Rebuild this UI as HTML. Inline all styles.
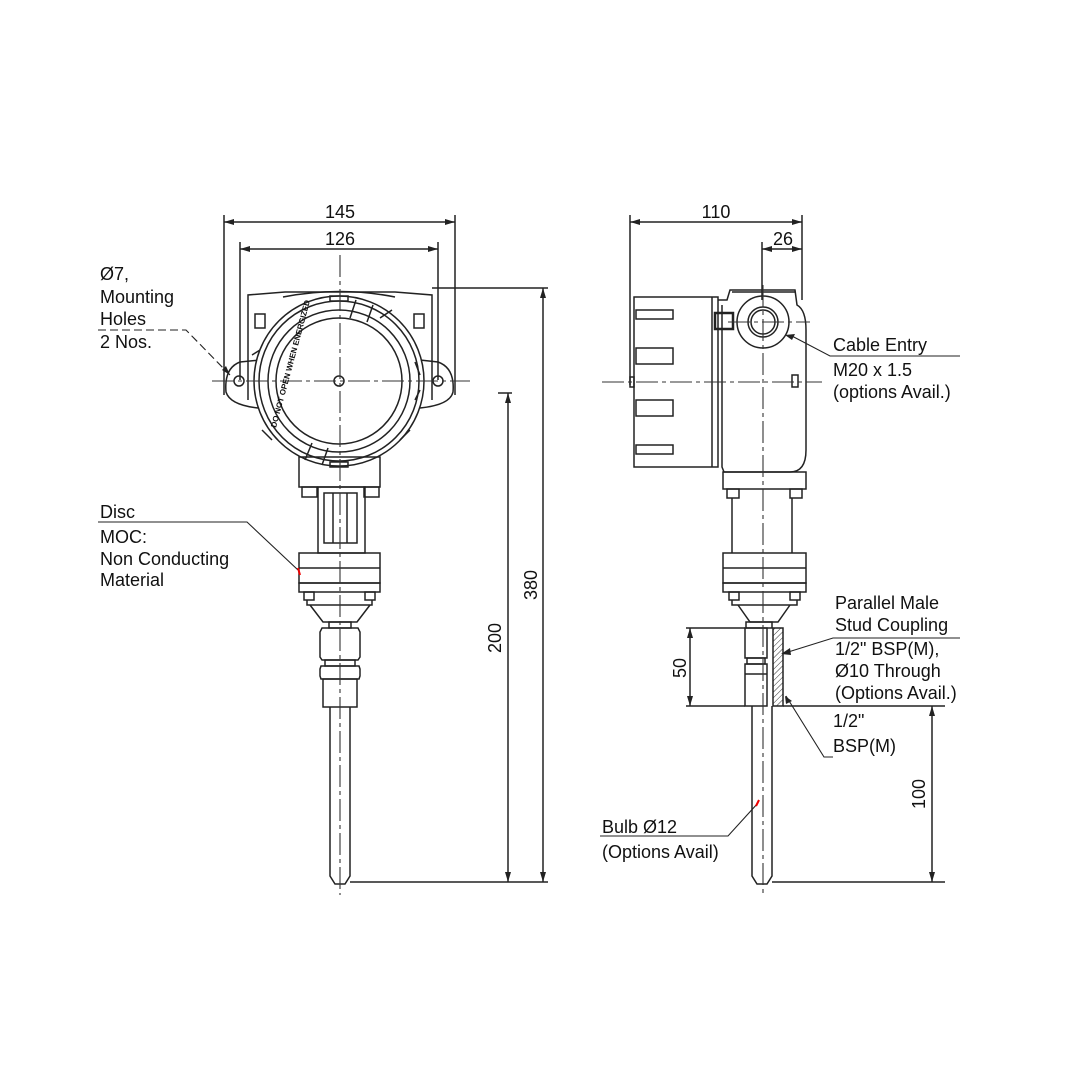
<!DOCTYPE html>
<html><head><style>
html,body{margin:0;padding:0;background:#fff;}
svg{display:block;}
text{font-family:"Liberation Sans",Arial,sans-serif;font-size:18px;fill:#111;}
</style></head><body>
<svg width="1080" height="1080" viewBox="0 0 1080 1080" xmlns="http://www.w3.org/2000/svg">
<defs>
<marker id="a" viewBox="0 0 10 10" refX="10" refY="5" markerWidth="10" markerHeight="10" orient="auto-start-reverse" markerUnits="userSpaceOnUse"><path d="M0,2 L10,5 L0,8 z" fill="#222"/></marker>
<pattern id="h" width="4" height="4" patternUnits="userSpaceOnUse" patternTransform="rotate(45)"><line x1="0" y1="0" x2="0" y2="4" stroke="#333" stroke-width="1"/></pattern>
</defs>
<g fill="none" stroke="#222" stroke-width="1.5">
<line x1="224" y1="215" x2="224" y2="395"/><line x1="455" y1="215" x2="455" y2="395"/>
<line x1="240" y1="242" x2="240" y2="380"/><line x1="438" y1="242" x2="438" y2="380"/>
<line x1="224" y1="222" x2="455" y2="222" marker-start="url(#a)" marker-end="url(#a)"/>
<line x1="240" y1="249" x2="438" y2="249" marker-start="url(#a)" marker-end="url(#a)"/>
<line x1="432" y1="288" x2="548" y2="288"/>
<line x1="498" y1="393" x2="512" y2="393"/>
<line x1="350" y1="882" x2="548" y2="882"/>
<line x1="508" y1="393" x2="508" y2="882" marker-start="url(#a)" marker-end="url(#a)"/>
<line x1="543" y1="288" x2="543" y2="882" marker-start="url(#a)" marker-end="url(#a)"/>
<path d="M248,400 L248,295 L285,292 L395,292 L432,295 L432,400"/>
<path d="M283,297 Q340,286 395,297"/>
<path d="M260,360 L240,362 Q224,368 226,392 Q230,405 258,408"/>
<path d="M420,360 L438,362 Q455,368 453,392 Q450,405 420,408"/>
<circle cx="239" cy="381" r="5"/><circle cx="438" cy="381" r="5"/>
<rect x="255" y="314" width="10" height="14"/><rect x="414" y="314" width="10" height="14"/>
<circle cx="339" cy="381" r="85" fill="#fff"/>
<circle cx="339" cy="381" r="80"/>
<circle cx="339" cy="381" r="71"/>
<circle cx="339" cy="381" r="63"/>
<circle cx="339" cy="381" r="5"/>
<rect x="330" y="296" width="18" height="5"/><rect x="330" y="462" width="18" height="5"/>
<path d="M356,300 L350,318 M373,305 L367,322"/>
<path d="M312,443 L305,460 M328,448 L322,465"/>
<path d="M252,355 L260,350 M415,362 L420,375 M415,400 L420,390 M262,430 L272,440 M400,440 L410,430 M380,318 L392,310"/>
<rect x="299" y="457" width="81" height="30"/>
<rect x="302" y="487" width="15" height="10"/><rect x="364" y="487" width="15" height="10"/>
<rect x="318" y="487" width="47" height="66"/>
<rect x="324" y="493" width="33" height="50"/>
<line x1="333" y1="493" x2="333" y2="543"/><line x1="347" y1="493" x2="347" y2="543"/>
<rect x="299" y="553" width="81" height="30"/><line x1="299" y1="568" x2="380" y2="568"/>
<rect x="299" y="583" width="81" height="9"/>
<rect x="304" y="592" width="10" height="8"/><rect x="365" y="592" width="10" height="8"/>
<path d="M307,600 L307,605 L372,605 L372,600"/>
<path d="M310,605 L323,622 L357,622 L370,605"/>
<rect x="329" y="622" width="22" height="6"/>
<path d="M322,628 L358,628 L360,632 L360,657 L358,660 L322,660 L320,657 L320,632 Z"/>
<rect x="325" y="660" width="30" height="6"/>
<path d="M321,666 L359,666 L360,669 L360,676 L359,679 L321,679 L320,676 L320,669 Z"/>
<rect x="323" y="679" width="34" height="28"/>
<path d="M330,707 L330,876 L335,884 L345,884 L350,876 L350,707"/>
<line x1="630" y1="215" x2="630" y2="385"/><line x1="802" y1="215" x2="802" y2="300"/>
<line x1="762" y1="242" x2="762" y2="300"/>
<line x1="630" y1="222" x2="802" y2="222" marker-start="url(#a)" marker-end="url(#a)"/>
<line x1="762" y1="249" x2="802" y2="249" marker-start="url(#a)" marker-end="url(#a)"/>
<path d="M634,297 L718,297 L718,467 L634,467 Z" fill="#fff"/>
<line x1="712" y1="297" x2="712" y2="467"/>
<rect x="636" y="310" width="37" height="9"/><rect x="636" y="348" width="37" height="16"/>
<rect x="636" y="400" width="37" height="16"/><rect x="636" y="445" width="37" height="9"/>
<rect x="630" y="377" width="4" height="10"/>
<path d="M718,300 L727,300 L730,290 L795,290 L797,305 Q806,310 806,330 L806,450 Q806,472 790,472 L724,472 L722,467 L722,305"/>
<line x1="732" y1="292" x2="795" y2="292"/>
<rect x="715" y="313" width="18" height="16" stroke-width="2.5"/>
<circle cx="763" cy="322" r="26"/>
<circle cx="763" cy="322" r="15"/><circle cx="763" cy="322" r="12"/>
<rect x="792" y="375" width="6" height="12"/>
<rect x="723" y="472" width="83" height="17"/>
<rect x="727" y="489" width="12" height="9"/><rect x="790" y="489" width="12" height="9"/>
<line x1="732" y1="498" x2="732" y2="553"/><line x1="792" y1="498" x2="792" y2="553"/>
<rect x="723" y="553" width="83" height="30"/><line x1="723" y1="568" x2="806" y2="568"/>
<rect x="723" y="583" width="83" height="9"/>
<rect x="729" y="592" width="10" height="8"/><rect x="790" y="592" width="10" height="8"/>
<path d="M732,600 L732,605 L797,605 L797,600"/>
<path d="M738,605 L750,622 L778,622 L790,605"/>
<rect x="746" y="622" width="26" height="6"/>
<rect x="745" y="628" width="22" height="30"/>
<rect x="747" y="658" width="18" height="6"/>
<rect x="745" y="664" width="22" height="42"/>
<line x1="745" y1="674" x2="767" y2="674"/>
<rect x="773" y="628" width="10" height="78" fill="url(#h)"/>
<path d="M752,706 L752,876 L757,884 L767,884 L772,876 L772,706"/>
<line x1="772" y1="882" x2="945" y2="882"/>
<line x1="783" y1="706" x2="945" y2="706"/>
<line x1="686" y1="628" x2="745" y2="628"/><line x1="686" y1="706" x2="745" y2="706"/>
<line x1="690" y1="628" x2="690" y2="706" marker-start="url(#a)" marker-end="url(#a)"/>
<line x1="932" y1="706" x2="932" y2="882" marker-start="url(#a)" marker-end="url(#a)"/>
</g>
<g stroke="#333" stroke-width="1.1" stroke-dasharray="22,4,4,4" fill="none">
<line x1="340" y1="255" x2="340" y2="895"/>
<line x1="212" y1="381" x2="470" y2="381"/>
<line x1="763" y1="285" x2="763" y2="895"/>
<line x1="602" y1="382" x2="822" y2="382"/>
<line x1="728" y1="322" x2="810" y2="322"/>
</g>
<g stroke="#222" stroke-width="1.1" fill="none">
<polyline points="98,330 186,330 230,375" stroke-dasharray="8,4"/>
<polyline points="98,522 247,522 298,570"/>
<polyline points="960,356 830,356 790,335"/>
<polyline points="960,638 833,638 785,653"/>
<polyline points="833,757 824,757 786,696"/>
<polyline points="600,836 728,836 758,803"/>
</g>
<path d="M230,375 L222,370 L226,366 Z" fill="#222"/>
<path d="M785,335 L795,334 L792,340 Z" fill="#222"/>
<path d="M781,654 L790,648 L791,655 Z" fill="#222"/>
<path d="M785,696 L792,701 L786,704 Z" fill="#222"/>
<line x1="298" y1="568" x2="300" y2="575" stroke="#e00" stroke-width="2"/>
<line x1="756" y1="806" x2="759" y2="800" stroke="#e00" stroke-width="2"/>
<text x="340" y="218" text-anchor="middle">145</text>
<text x="340" y="245" text-anchor="middle">126</text>
<text x="716" y="218" text-anchor="middle">110</text>
<text x="783" y="245" text-anchor="middle">26</text>
<text x="100" y="280">Ø7,</text>
<text x="100" y="303">Mounting</text>
<text x="100" y="325">Holes</text>
<text x="100" y="348">2 Nos.</text>
<text x="100" y="518">Disc</text>
<text x="100" y="543">MOC:</text>
<text x="100" y="565">Non Conducting</text>
<text x="100" y="586">Material</text>
<text transform="translate(501,638) rotate(-90)" text-anchor="middle">200</text>
<text transform="translate(537,585) rotate(-90)" text-anchor="middle">380</text>
<text x="833" y="351">Cable Entry</text>
<text x="833" y="376">M20 x 1.5</text>
<text x="833" y="398">(options Avail.)</text>
<text x="835" y="609">Parallel Male</text>
<text x="835" y="631">Stud Coupling</text>
<text x="835" y="655">1/2" BSP(M),</text>
<text x="835" y="677">Ø10 Through</text>
<text x="835" y="699">(Options Avail.)</text>
<text x="833" y="727">1/2"</text>
<text x="833" y="752">BSP(M)</text>
<text transform="translate(686,668) rotate(-90)" text-anchor="middle">50</text>
<text transform="translate(925,794) rotate(-90)" text-anchor="middle">100</text>
<text x="602" y="833">Bulb Ø12</text>
<text x="602" y="858">(Options Avail)</text>
<text x="0" y="0" transform="translate(276,428) rotate(-75)" style="font-size:8px;font-weight:bold">DO NOT OPEN WHEN ENERGIZED</text>
</svg>
</body></html>
